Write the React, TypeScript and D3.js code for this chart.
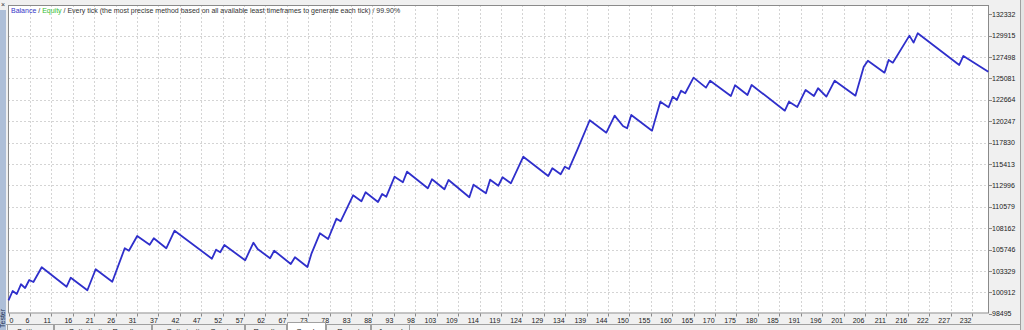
import React from "react";
import * as d3 from "d3";

// Balance curve vertices: trade number and balance
const tradeIndex = [
  0, 1, 2, 3, 4, 5, 6, 8, 14, 15, 19, 21, 25, 28, 29, 31, 34, 35, 38, 40,
  49, 50, 51, 52, 57, 59, 60, 63, 64, 68, 69, 72, 73, 75, 77, 79, 80, 83, 85, 86,
  89, 90, 91, 93, 95, 96, 101, 102, 105, 106, 111, 112, 115, 116, 118, 119, 121, 124, 130, 131,
  133, 134, 135, 137, 140, 144, 146, 148, 149, 150, 155, 157, 159, 160, 161, 162, 163, 165, 168, 169,
  174, 175, 178, 179, 187, 188, 190, 192, 194, 195, 197, 199, 204, 206, 207, 211, 212, 213, 217, 218,
  219, 229, 230, 236,
];
const balance = [
  100000, 101071, 100732, 101829, 101410, 102314, 102088, 103750, 101557, 102574,
  101151, 103524, 102122, 105897, 105625, 107286, 106303, 107027, 105897, 107885,
  104721, 105738, 105445, 106269, 104541, 106529, 105817, 104767, 105625, 104122,
  104880, 103783, 105332, 107592, 106947, 109241, 108948, 111886, 111208, 112225,
  111128, 112032, 111727, 113987, 113355, 114552, 112677, 113694, 112564, 113614,
  111660, 113083, 112112, 113648, 112970, 113920, 113242, 116247, 114066, 114937,
  114259, 115117, 114857, 117004, 120361, 118959, 120880, 119716, 119457, 120959,
  119185, 122462, 121830, 123027, 122654, 123705, 123412, 125174, 124044, 124835,
  123106, 124316, 123219, 124349, 121445, 122462, 121863, 123784, 123106, 123977,
  123027, 124835, 123140, 126417, 127095, 125739, 127174, 126869, 129920, 129129,
  130192, 126609, 127626, 125852,
];

const yTickLabels = [
  "98495", "100912", "103329", "105746", "108162", "110579", "112996", "115413",
  "117830", "120247", "122664", "125081", "127498", "129915", "132332",
];
const xTickLabels = [
  "0", "6", "11", "16", "21", "26", "31", "37", "42", "47", "52", "57", "62", "67", "73",
  "78", "83", "88", "93", "98", "103", "109", "114", "119", "124", "129", "134", "139", "144", "150",
  "155", "160", "165", "170", "175", "180", "185", "191", "196", "201", "206", "211", "216", "222", "227",
  "232",
];
const xTickStep = 5.157;
const tabLabels = ["Settings", "Optimization Results", "Optimization Graph", "Results", "Graph", "Report", "Journal"];
const tabEdges = [7, 54, 152, 245, 287, 326, 371, 410];
const activeTab = 4;

const W = 1024;
const H = 330;
const plot = { left: 8, right: 989, top: 5, bottom: 313.5 };
const FONT = "'Liberation Sans', Arial, sans-serif";

export default function App() {
  const x = d3.scaleLinear().domain([0, 236]).range([plot.left + 0.5, plot.right - 0.7]);
  const y = d3
    .scaleLinear()
    .domain([Number(yTickLabels[0]), Number(yTickLabels[yTickLabels.length - 1])])
    .range([plot.bottom + 0.3, 14.3]);

  const pts: [number, number][] = tradeIndex.map((t, i) => [t, balance[i]]);
  const line = d3
    .line<[number, number]>()
    .x((d) => x(d[0]))
    .y((d) => y(d[1]));

  const xTicks = xTickLabels.map((lab, k) => ({ lab, pos: x(k * xTickStep) }));

  return (
    <svg
      width={W}
      height={H}
      style={{ position: "fixed", left: 0, top: 0, display: "block" }}
      fontFamily={FONT}
    >
      <rect x={0} y={0} width={W} height={H} fill="#f0f0f0" />
      {/* left tester strip */}
      <rect x={0} y={10} width={6} height={H - 10} fill="#aebfd8" />
      <text x={1} y={7} fontSize={7} fill="#333">×</text>
      <text
        transform={`translate(5,${H - 2}) rotate(-90)`}
        fontSize={7}
        fill="#203050"
      >
        Tester
      </text>
      {/* right edge */}
      <line x1={1020.5} y1={0} x2={1020.5} y2={H} stroke="#a0a0a0" />
      <rect x={1021} y={0} width={3} height={H} fill="#e4e4e4" />

      {/* plot area */}
      <rect
        x={plot.left}
        y={plot.top}
        width={plot.right - plot.left}
        height={plot.bottom - plot.top}
        fill="#ffffff"
      />
      {/* horizontal grid */}
      {yTickLabels.slice(1, -1).map((lab) => (
        <line
          key={"hg" + lab}
          x1={plot.left}
          x2={plot.right}
          y1={Math.round(y(Number(lab))) + 0.5}
          y2={Math.round(y(Number(lab))) + 0.5}
          stroke="#d4d4d4"
          strokeDasharray="2,2"
        />
      ))}
      {/* vertical grid */}
      {xTicks.slice(1).map((t) => (
        <line
          key={"vg" + t.lab}
          x1={Math.round(t.pos) + 0.5}
          x2={Math.round(t.pos) + 0.5}
          y1={plot.top}
          y2={plot.bottom}
          stroke="#d4d4d4"
          strokeDasharray="2,2"
        />
      ))}
      <rect
        x={plot.left + 0.5}
        y={plot.top + 0.5}
        width={plot.right - plot.left - 1}
        height={plot.bottom - plot.top - 1}
        fill="none"
        stroke="#8a8a8a"
      />

      {/* balance line */}
      <path d={line(pts) || ""} fill="none" stroke="#2f2fcb" strokeWidth={1.8} strokeLinejoin="round" />

      {/* legend */}
      <text x={11} y={13} fontSize={7} fill="#333">
        <tspan fill="#3535c8">Balance</tspan>
        <tspan> / </tspan>
        <tspan fill="#33bb33">Equity</tspan>
        <tspan> / Every tick (the most precise method based on all available least timeframes to generate each tick) / 99.90%</tspan>
      </text>

      {/* y axis labels */}
      {yTickLabels.map((lab) => (
        <g key={"yl" + lab}>
          <line
            x1={plot.right}
            x2={plot.right + 3}
            y1={Math.round(y(Number(lab))) + 0.5}
            y2={Math.round(y(Number(lab))) + 0.5}
            stroke="#8a8a8a"
          />
          <text x={992} y={y(Number(lab)) + 2.5} fontSize={7} fill="#222">
            {lab}
          </text>
        </g>
      ))}

      {/* x axis labels */}
      {xTicks.map((t, k) => (
        <g key={"xl" + t.lab}>
          <line
            x1={Math.round(t.pos) + 0.5}
            x2={Math.round(t.pos) + 0.5}
            y1={plot.bottom}
            y2={plot.bottom + 3}
            stroke="#8a8a8a"
          />
          <text
            x={k === 0 ? t.pos + 1 : t.pos - 0.5}
            y={322.5}
            fontSize={7}
            fill="#222"
            textAnchor={k === 0 ? "start" : "end"}
          >
            {t.lab}
          </text>
        </g>
      ))}

      {/* bottom tabs */}
      <line x1={6} x2={1020} y1={324.5} y2={324.5} stroke="#a0a0a0" />
      {tabLabels.map((lab, i) => {
        const x0 = tabEdges[i];
        const x1 = tabEdges[i + 1];
        const active = i === activeTab;
        return (
          <g key={"tab" + lab}>
            <rect
              x={x0 + 0.5}
              y={active ? 322.5 : 324.5}
              width={x1 - x0 - 1}
              height={12}
              fill={active ? "#ffffff" : "#f0f0f0"}
              stroke={active ? "none" : "#a0a0a0"}
            />
            {active && (
              <path
                d={`M${x0 + 0.5},${H} V322.5 H${x1 - 0.5} V${H}`}
                fill="none"
                stroke="#a0a0a0"
              />
            )}
            <text
              x={(x0 + x1) / 2}
              y={334}
              fontSize={7.5}
              fill="#222"
              textAnchor="middle"
            >
              {lab}
            </text>
          </g>
        );
      })}
    </svg>
  );
}
